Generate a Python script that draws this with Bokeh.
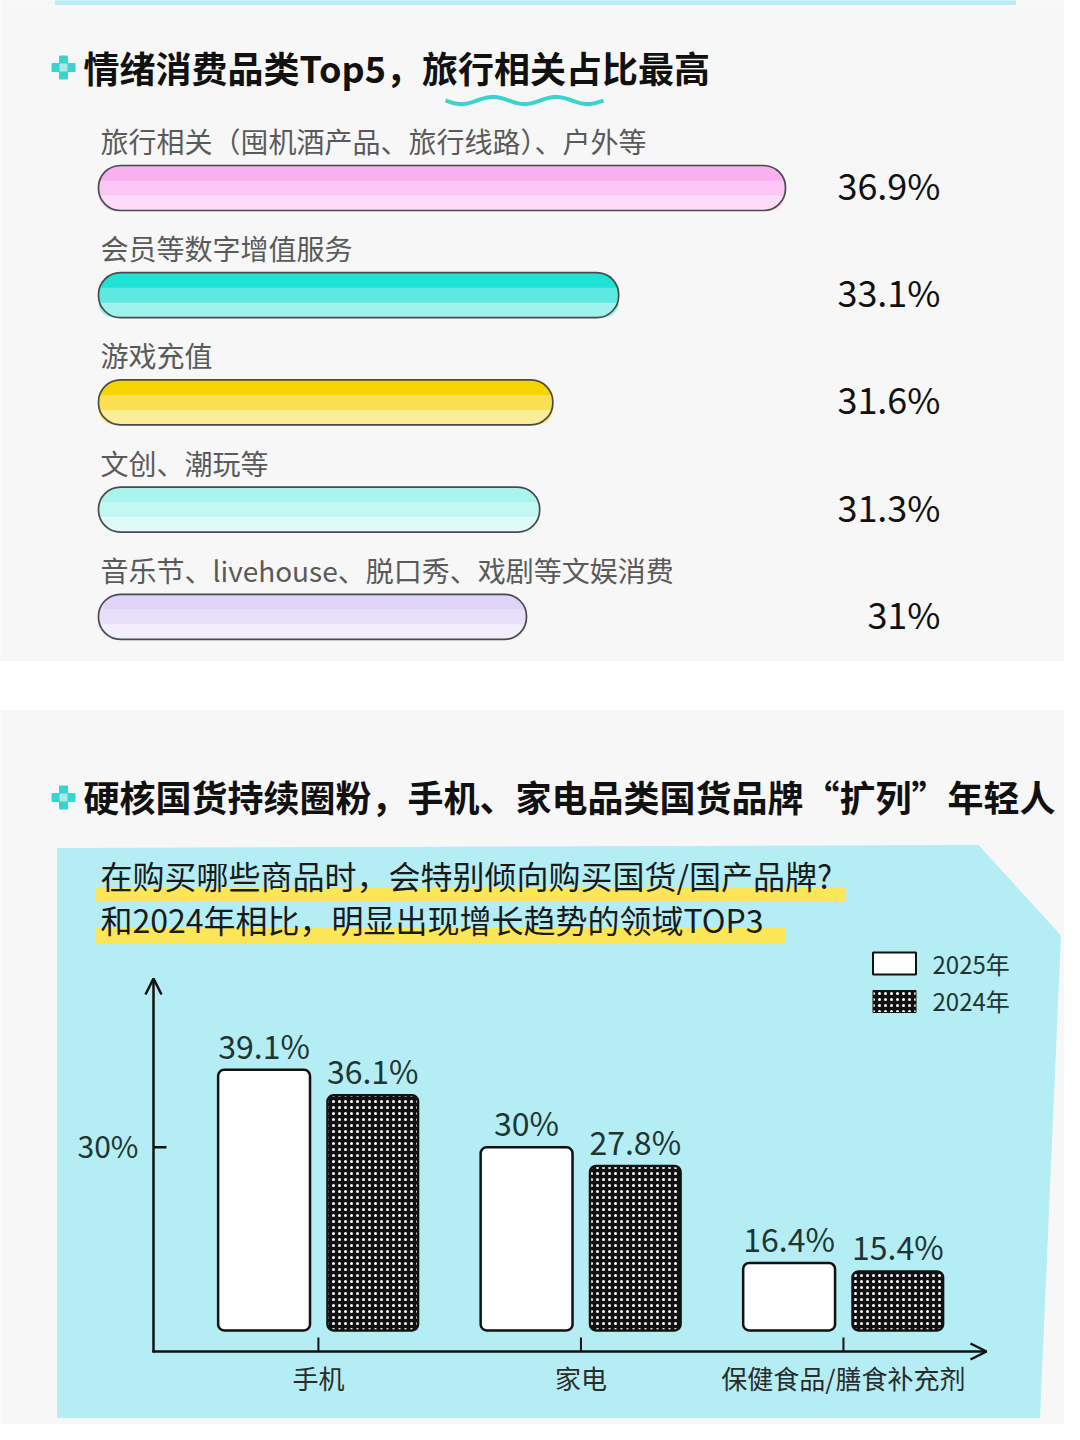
import numpy as np
from bokeh.plotting import figure
from bokeh.models import Range1d, Arrow, OpenHead, ColumnDataSource
from bokeh.core.properties import value
from bokeh.embed import file_html
from bokeh.resources import INLINE

# ---------------- data ----------------
title_top = "情绪消费品类Top5，旅行相关占比最高"
top_categories = [
    "旅行相关（囤机酒产品、旅行线路）、户外等",
    "会员等数字增值服务",
    "游戏充值",
    "文创、潮玩等",
    "音乐节、livehouse、脱口秀、戏剧等文娱消费",
]
top_values = [36.9, 33.1, 31.6, 31.3, 31.0]

# bar fill tones (top -> bottom), styling only
tone_top = ["#f8b0ee", "#1ee2d5", "#f5d400", "#a9f4ec", "#e0d5f9"]
tone_mid = ["#fac6f3", "#5ee9e0", "#f8e052", "#c4f7f2", "#e8e0fa"]
tone_low = ["#fcdcf8", "#a0f0eb", "#fbec9a", "#e0faf7", "#f2eefb"]

title_bottom = "硬核国货持续圈粉，手机、家电品类国货品牌“扩列”年轻人"
subtitle_lines = ["在购买哪些商品时，会特别倾向购买国货/国产品牌?",
                  "和2024年相比，明显出现增长趋势的领域TOP3"]
bottom_categories = ["手机", "家电", "保健食品/膳食补充剂"]
share_2025 = [39.1, 30.0, 16.4]
share_2024 = [36.1, 27.8, 15.4]
series_names = ["2025年", "2024年"]
y_tick_values = [30]

FONT = value("Noto Sans CJK SC")
TEAL = "#3ad4ce"

# ---------------- figure (pixel-like base ranges for decoration) ----------------
p = figure(width=1064, height=1424, x_range=Range1d(0, 1064), y_range=Range1d(1424, 0),
           x_axis_type=None, y_axis_type=None, toolbar_location=None,
           output_backend="svg", min_border=0)
p.outline_line_color = None
p.background_fill_color = "white"
p.border_fill_color = "white"
p.xgrid.visible = False
p.ygrid.visible = False

# data scales (truncated axes, as in the original infographic)
p.extra_x_ranges = {"top_x": Range1d(19.018, 43.255), "bot_x": Range1d(-1.211, 2.842)}
p.extra_y_ranges = {"bot_y": Range1d(-2.58, 164.76)}
TOP_BASE = 21.25
BOT_BASE = 8.47

# section backgrounds
p.quad(left=[0, 0], right=[1064, 1064], top=[0, 710], bottom=[660, 1424], color="#f7f7f7")
p.quad(left=[55], right=[1015], top=[0], bottom=[4], color="#b8eef3")


def marker(cx, cy):
    p.rect(x=[cx - 7.5, cx + 7.5, cx, cx], y=[cy, cy, cy - 7.5, cy + 7.5],
           width=8, height=8, color=TEAL)
    p.rect(x=[cx], y=[cy], width=7, height=7, color="#a8ece8")


# ---------------- top chart ----------------
marker(63, 67)
p.text(x=[83], y=[66], text=[title_top], text_font=FONT, text_font_size="36px",
       text_font_style="bold", text_color="#111111", text_baseline="middle")
wx = np.linspace(445, 603, 90)
wy = 100 + 3.5 * np.sin((wx - 445) / 158 * 2 * np.pi * 2.5)
p.line(wx, wy, line_color=TEAL, line_width=4)

BAR_H = 45
n = len(top_values)
row_y = [187.5 + 107.2 * i for i in range(n)]
top_src = ColumnDataSource(dict(
    y=row_y,
    y_mid=[y + BAR_H / 6 for y in row_y],
    y_low=[y + BAR_H / 3 for y in row_y],
    left=[TOP_BASE] * n, right=top_values,
    c_top=tone_top, c_mid=tone_mid, c_low=tone_low,
    label_y=[y - 47 for y in row_y], val_y=[y - 4 for y in row_y],
    cat=top_categories, val=[f"{v:g}%" for v in top_values],
    lx=[100] * n, vx=[940] * n))
# layered fills give a soft vertical fade, then the outline on top
p.hbar(y="y", left="left", right="right", height=BAR_H, fill_color="c_top",
       line_color=None, border_radius=22, x_range_name="top_x", source=top_src)
p.hbar(y="y_mid", left="left", right="right", height=BAR_H * 2 / 3, fill_color="c_mid",
       line_color=None, border_radius=(0, 0, 22, 22), x_range_name="top_x", source=top_src)
p.hbar(y="y_low", left="left", right="right", height=BAR_H / 3, fill_color="c_low",
       line_color=None, border_radius=(0, 0, 15, 15), x_range_name="top_x", source=top_src)
p.hbar(y="y", left="left", right="right", height=BAR_H, fill_color=None,
       line_color="#4a4a4a", line_width=1.7, border_radius=22,
       x_range_name="top_x", source=top_src)
p.text(x="lx", y="label_y", text="cat", source=top_src, text_font=FONT,
       text_font_size="28px", text_color="#5a5a5a", text_baseline="middle")
p.text(x="vx", y="val_y", text="val", source=top_src, text_font=FONT,
       text_font_size="36px", text_color="#111111", text_baseline="middle",
       text_align="right")

# ---------------- bottom chart ----------------
marker(63, 797)
p.text(x=[83], y=[795], text=[title_bottom], text_font=FONT, text_font_size="36px",
       text_font_style="bold", text_color="#111111", text_baseline="middle")

p.patch(x=[57, 978, 1060, 1039, 57], y=[848, 845, 935, 1417, 1417], color="#b4eef4")
p.quad(left=[96, 96], right=[844, 785], top=[887, 928], bottom=[901, 942], color="#fbe655")
p.text(x=[100, 100], y=[874, 918], text=subtitle_lines, text_font=FONT,
       text_font_size="32px", text_color="#1a1a1a", text_baseline="middle")

# axes (hand-drawn arrows)
p.add_layout(Arrow(end=OpenHead(size=16, line_width=2.5, line_color="#111111"),
                   x_start=153, y_start=1352, x_end=153, y_end=978,
                   line_width=2.5, line_color="#111111"))
p.add_layout(Arrow(end=OpenHead(size=16, line_width=2.5, line_color="#111111"),
                   x_start=152, y_start=1351, x_end=986, y_end=1351,
                   line_width=2.5, line_color="#111111"))

# y tick
p.segment(x0=[153] * len(y_tick_values), x1=[166] * len(y_tick_values),
          y0=y_tick_values, y1=y_tick_values, y_range_name="bot_y",
          line_color="#111111", line_width=2.5)
p.text(x=[138] * len(y_tick_values), y=y_tick_values,
       text=[f"{v}%" for v in y_tick_values], y_range_name="bot_y", y_offset=-2,
       text_font=FONT, text_font_size="30px", text_color="#1f3533",
       text_baseline="middle", text_align="right")

idx = list(range(len(bottom_categories)))
p.segment(x0=idx, x1=idx, y0=[1337] * 3, y1=[1351] * 3, x_range_name="bot_x",
          line_color="#111111", line_width=2)
p.text(x=idx, y=[1377] * 3, text=bottom_categories, x_range_name="bot_x",
       text_font=FONT, text_font_size="26px", text_color="#2b2b2b",
       text_baseline="middle", text_align="center")

off = 0.207
x25 = [i - off for i in idx]
x24 = [i + off for i in idx]
p.vbar(x=x25, width=0.35, bottom=BOT_BASE, top=share_2025,
       x_range_name="bot_x", y_range_name="bot_y",
       fill_color="white", line_color="#111111", line_width=2.5, border_radius=6)
p.vbar(x=x24, width=0.345, bottom=BOT_BASE, top=share_2024,
       x_range_name="bot_x", y_range_name="bot_y",
       fill_color="#111111", hatch_pattern="dot", hatch_color="white",
       hatch_scale=6, hatch_weight=2, line_color="#111111", line_width=2.5,
       border_radius=6)
p.text(x=x25, y=share_2025, text=[f"{v:g}%" for v in share_2025],
       x_range_name="bot_x", y_range_name="bot_y", y_offset=-25,
       text_font=FONT, text_font_size="32px", text_color="#1f3533",
       text_baseline="middle", text_align="center")
p.text(x=x24, y=share_2024, text=[f"{v:g}%" for v in share_2024],
       x_range_name="bot_x", y_range_name="bot_y", y_offset=-25,
       text_font=FONT, text_font_size="32px", text_color="#1f3533",
       text_baseline="middle", text_align="center")

# legend
p.rect(x=[894], y=[963], width=43, height=22, fill_color="white",
       line_color="#111111", line_width=2)
p.rect(x=[894], y=[1001], width=43, height=22, fill_color="#111111",
       hatch_pattern="dot", hatch_color="white", hatch_scale=6, hatch_weight=2,
       line_color="#111111", line_width=1)
p.text(x=[932, 932], y=[963, 1000], text=series_names, text_font=FONT,
       text_font_size="24px", text_color="#1f3533", text_baseline="middle")

open("out.html", "w").write(file_html(p, INLINE))
